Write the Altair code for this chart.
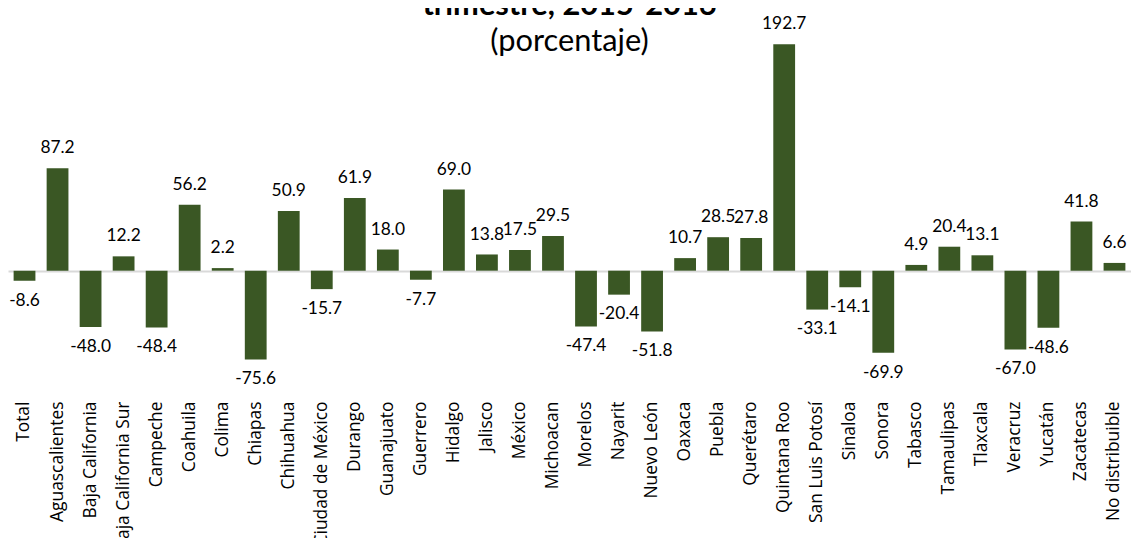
import altair as alt
import pandas as pd

categories = [
    "Total", "Aguascalientes", "Baja California", "Baja California Sur", "Campeche",
    "Coahuila", "Colima", "Chiapas", "Chihuahua", "Ciudad de México", "Durango",
    "Guanajuato", "Guerrero", "Hidalgo", "Jalisco", "México", "Michoacan", "Morelos",
    "Nayarit", "Nuevo León", "Oaxaca", "Puebla", "Querétaro", "Quintana Roo",
    "San Luis Potosí", "Sinaloa", "Sonora", "Tabasco", "Tamaulipas", "Tlaxcala",
    "Veracruz", "Yucatán", "Zacatecas", "No distribuible",
]
values = [
    -8.6, 87.2, -48.0, 12.2, -48.4, 56.2, 2.2, -75.6, 50.9, -15.7, 61.9,
    18.0, -7.7, 69.0, 13.8, 17.5, 29.5, -47.4, -20.4, -51.8, 10.7, 28.5,
    27.8, 192.7, -33.1, -14.1, -69.9, 4.9, 20.4, 13.1, -67.0, -48.6, 41.8, 6.6,
]
title_line = "trimestre, 2015-2016"
subtitle_line = "(porcentaje)"

df = pd.DataFrame({
    "entidad": categories,
    "valor": values,
    "etiqueta": [f"{v:.1f}" for v in values],
})

GREEN = "#3a5724"

x_enc = alt.X(
    "entidad:N", sort=categories, title=None,
    scale=alt.Scale(paddingInner=0.34, paddingOuter=0.17),
    axis=alt.Axis(labelAngle=-90, labelFont="Open Sans", labelFontSize=17.5,
                  labelColor="black", labelPadding=13, ticks=False, domain=False,
                  labelOverlap=False, labelLimit=400),
)
y_scale = alt.Scale(domain=[-100, 200], nice=False, zero=False)

base = alt.Chart(df)

bars = base.mark_bar(color=GREEN).encode(
    x=x_enc,
    y=alt.Y("valor:Q", scale=y_scale, title=None,
            axis=alt.Axis(values=[0], grid=True, gridColor="#d9d9d9", gridWidth=2,
                          labels=False, ticks=False, domain=False)),
)

labels = base.transform_calculate(
    pos="datum.valor >= 0 ? datum.valor + 16.9 : datum.valor - 16.9"
).mark_text(font="Lato", fontSize=17.5, color="black", baseline="middle", align="center").encode(
    x=x_enc,
    y=alt.Y("pos:Q", scale=y_scale),
    text="etiqueta:N",
)

chart = alt.layer(bars, labels).properties(
    width=1131,
    height=355,
    title=alt.TitleParams(
        text=title_line, subtitle=subtitle_line,
        font="Lato", fontSize=31, fontWeight="bold", color="black",
        subtitleFont="Lato", subtitleFontSize=31, subtitleColor="black",
        subtitlePadding=5, anchor="middle", offset=0, dy=43,
    ),
).configure(
    autosize=alt.AutoSizeParams(type="none"),
    padding={"top": 26, "left": 0, "right": 0, "bottom": 149},
).configure_view(stroke=None)

chart.save("out.html", embed_options={"renderer": "svg", "actions": False})
